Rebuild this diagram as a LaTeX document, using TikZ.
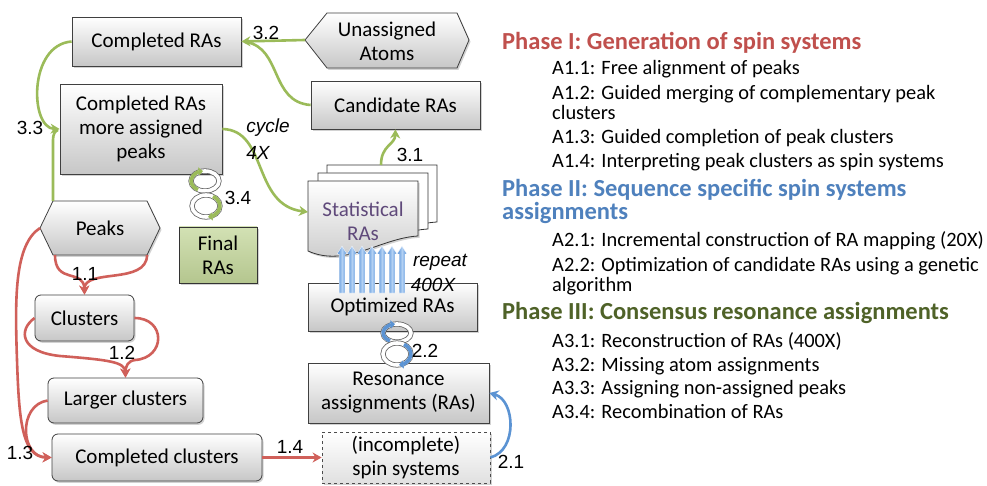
\documentclass[tikz,border=0pt]{standalone}
\usepackage{fontspec}
\setmainfont{Carlito}
\newfontfamily\labfont{Liberation Sans}
\usetikzlibrary{arrows.meta,shadows}
\definecolor{gA}{HTML}{9BBB59}
\definecolor{rA}{HTML}{D0605A}
\definecolor{bA}{HTML}{5B93D3}
\definecolor{pI}{HTML}{C0504D}
\definecolor{pII}{HTML}{4F81BD}
\definecolor{pIII}{HTML}{4F6228}
\definecolor{bordc}{HTML}{404040}
\definecolor{finalc}{HTML}{C4D79B}
\definecolor{statc}{HTML}{5F497A}
\definecolor{blL}{HTML}{B4D2F4}
\definecolor{blD}{HTML}{4A88D4}
\begin{document}
\begin{tikzpicture}[x=1pt,y=-1pt,
  shadowed/.style={drop shadow={shadow xshift=1.5pt,shadow yshift=-1.8pt,opacity=0.35}},
  box/.style={draw=bordc, line width=0.8pt, top color=white, bottom color=black!22, shadowed,
    inner sep=0pt, align=center, font=\fontsize{21}{24}\selectfont},
  rbox/.style={box, rounded corners=6pt},
  hexbox/.style={draw=bordc, line width=0.8pt, top color=white, bottom color=black!22, shadowed},
  txt/.style={inner sep=0pt, align=center, font=\fontsize{21}{24}\selectfont},
  lab/.style={inner sep=0pt, font=\labfont\fontsize{19}{22}\selectfont},
  ilab/.style={inner sep=0pt, font=\labfont\itshape\fontsize{19}{22}\selectfont},
  gline/.style={draw=gA, line width=2.6pt, -{Stealth[length=9pt,width=10pt]}},
  glinen/.style={draw=gA, line width=2.6pt},
  rline/.style={draw=rA, line width=2.6pt, -{Stealth[length=9pt,width=10pt]}},
  bline/.style={draw=bA, line width=2.6pt, -{Stealth[length=9pt,width=10pt]}},
  head/.style={anchor=base west, inner sep=0pt, font=\bfseries\fontsize{24.5}{26}\selectfont},
  item/.style={anchor=base west, inner sep=0pt, font=\fontsize{20.4}{24}\selectfont},
  ringedge/.style={draw=black!60, line width=5.2pt},
  ringfill/.style={draw=white, line width=3.6pt},
  ringarc/.style={line width=3.6pt, -{Triangle[length=4.5pt,width=8pt]}},
]
\fill[white] (0,0) rectangle (987,486);
\useasboundingbox (0,0) rectangle (987,486);

% ---------- boxes ----------
\node[box, minimum width=169, minimum height=49] (crt) at (156.5,41.5) {Completed RAs};
\node[box, minimum width=162, minimum height=90] (crm) at (141,129) {Completed RAs\\more assigned\\peaks};
\node[box, minimum width=169, minimum height=48] (cand) at (395.5,105) {Candidate RAs};
\node[box, top color=finalc!75!white, bottom color=finalc!92!black, draw=black!80, minimum width=78, minimum height=56] (final) at (218,255) {Final\\RAs};
\node[rbox, minimum width=99, minimum height=46] (clu) at (84.5,318) {Clusters};
\node[rbox, minimum width=155, minimum height=45] (lcl) at (125.5,400.5) {Larger clusters};
\node[rbox, minimum width=210, minimum height=47] (ccl) at (157,457.5) {Completed clusters};
\node[box, minimum width=169, minimum height=48] (opt) at (392.5,307) {Optimized RAs};
\node[box, minimum width=181, minimum height=60] (res) at (398.5,393) {Resonance\\assignments (RAs)};
\node[box, dashed, draw=black!70, top color=white, bottom color=black!12, minimum width=168, minimum height=51] (inc) at (406,457.5) {(incomplete)\\spin systems};

% ---------- hexagons ----------
\path[hexbox] (305,40) -- (327,13) -- (457,13) -- (469,40) -- (457,68) -- (327,68) -- cycle;
\node[txt] (ua) at (387,41) {Unassigned\\Atoms};
\coordinate (uaW) at (305,40);
\path[hexbox] (40,228) -- (53,201) -- (147,201) -- (160,228) -- (147,255) -- (53,255) -- cycle;
\node[txt] (pk) at (100,228) {Peaks};
\coordinate (pkW) at (40,228);
\coordinate (pkNW) at (53,201);
\coordinate (pkSW) at (55,255);
\coordinate (pkSE) at (147,255);

% ---------- statistical RAs stack ----------
\path[draw=black!80, line width=0.8pt, fill=white]
  (327,165) -- (437,165) -- (437,222) .. controls (400,224) and (365,252) .. (327,236) -- cycle;
\path[draw=black!80, line width=0.8pt, fill=white]
  (318,173) -- (428,173) -- (428,229) .. controls (391,231) and (356,259) .. (318,243) -- cycle;
\path[draw=black!80, line width=0.8pt, top color=white, bottom color=black!22, shadowed]
  (308,181) -- (418,181) -- (418,236) .. controls (381,238) and (346,268) .. (308,251) -- cycle;
\node[txt, text=statc] (stat) at (363,221) {Statistical\\RAs};
\coordinate (statW) at (308,212);
\coordinate (statN) at (381,165);

% ---------- blue repeat arrows ----------
\foreach \i in {0,...,6}{
  \pgfmathsetmacro{\xx}{342+10*\i}
  \path[left color=blD, right color=blD, middle color=blL, draw=white, line width=0.3pt]
    (\xx-2.9,293) -- (\xx-2.9,254) -- (\xx-4.9,254) -- (\xx,246) -- (\xx+4.9,254) -- (\xx+2.9,254) -- (\xx+2.9,293) -- cycle;
}

% ---------- cycle icons ----------
% 3.4
\draw[ringedge] (205,181) ellipse [x radius=14, y radius=10];
\draw[ringfill] (205,181) ellipse [x radius=14, y radius=10];
\draw[ringarc, draw=gA] ([shift={(120:14 and 10)}]205,181) arc[start angle=120, end angle=262, x radius=14, y radius=10];
\draw[ringedge] (206,206) ellipse [x radius=14, y radius=11];
\draw[ringfill] (206,206) ellipse [x radius=14, y radius=11];
\draw[ringarc, draw=gA] ([shift={(-60:14 and 11)}]206,206) arc[start angle=-60, end angle=82, x radius=14, y radius=11];
% 2.2
\draw[ringedge] (397,333) ellipse [x radius=14, y radius=9];
\draw[ringfill] (397,333) ellipse [x radius=14, y radius=9];
\draw[ringarc, draw=bA] ([shift={(120:14 and 9)}]397,333) arc[start angle=120, end angle=262, x radius=14, y radius=9];
\draw[ringedge] (397,354) ellipse [x radius=14, y radius=11];
\draw[ringfill] (397,354) ellipse [x radius=14, y radius=11];
\draw[ringarc, draw=bA] ([shift={(-60:14 and 11)}]397,354) arc[start angle=-60, end angle=82, x radius=14, y radius=11];

% ---------- green connectors ----------
\draw[gline] (uaW) -- (crt.east);
\draw[glinen] (cand.west) .. controls (270,102) and (282,48) .. (246,42);
\draw[gline] (crt.west) .. controls (28,45) and (30,128) .. (crm.west);
\draw[glinen] (pkNW) -- (53,140) .. controls (53,134) and (55,131) .. (58,130);
\draw[gline] (crm.east) .. controls (268,130) and (252,205) .. (statW);
\draw[gline] (statN) .. controls (381,145) and (395,145) .. (cand.south);

% ---------- red connectors ----------
\draw[rline] (pkSW) .. controls (55,285) and (84,268) .. (clu.north);
\draw[rline] (pkSE) .. controls (147,285) and (84,268) .. (clu.north);
\draw[rline] (clu.west) .. controls (18,330) and (20,352) .. (60,356) .. controls (110,360) and (125,362) .. (lcl.north);
\draw[rline] (clu.east) .. controls (166,318) and (166,358) .. (135,360) .. controls (128,361) and (125.5,366) .. (lcl.north);
\draw[rline] (pkW) .. controls (14,245) and (15,300) .. (17,360) .. controls (19,420) and (22,457) .. (ccl.west);
\draw[rline] (lcl.west) .. controls (18,405) and (20,457) .. (ccl.west);
\draw[rline] (ccl.east) -- (inc.west);

% ---------- blue connector ----------
\draw[bline] (inc.east) .. controls (518,450) and (515,400) .. (res.east);

% ---------- labels ----------
\node[lab] (l33) at (30,128) {3.3};
\node[lab] (l32) at (266,33) {3.2};
\node[lab] (l31) at (410,155) {3.1};
\node[lab] (l34) at (238,198) {3.4};
\node[ilab] (lcy) at (268,128) {cycle};
\node[ilab] (l4x) at (258,153) {4X};
\node[ilab] (lrp) at (440,262) {repeat};
\node[ilab] (l400) at (433,285) {400X};
\node[lab] (l22) at (425,351) {2.2};
\node[lab] (l11) at (85,274) {1.1};
\node[lab] (l12) at (122,353) {1.2};
\node[lab] (l13) at (20,453) {1.3};
\node[lab] (l14) at (290,447) {1.4};
\node[lab] (l21) at (511,462) {2.1};

% ---------- right panel ----------
\node[head, text=pI] (h1) at (502,50) {Phase I: Generation of spin systems};
\node[item] (a11) at (552,75) {A1.1: Free alignment of peaks};
\node[item] (a12) at (552,100) {A1.2: Guided merging of complementary peak};
\node[item] (a12b) at (552,120) {clusters};
\node[item] (a13) at (552,144) {A1.3: Guided completion of peak clusters};
\node[item] (a14) at (552,168) {A1.4: Interpreting peak clusters as spin systems};
\node[head, text=pII] (h2) at (502,197) {Phase II: Sequence specific spin systems};
\node[head, text=pII] (h2b) at (502,220) {assignments};
\node[item] (a21) at (552,247) {A2.1: Incremental construction of RA mapping (20X)};
\node[item] (a22) at (552,272) {A2.2: Optimization of candidate RAs using a genetic};
\node[item] (a22b) at (552,291) {algorithm};
\node[head, text=pIII] (h3) at (502,319) {Phase III: Consensus resonance assignments};
\node[item] (a31) at (552,347) {A3.1: Reconstruction of RAs (400X)};
\node[item] (a32) at (552,371) {A3.2: Missing atom assignments};
\node[item] (a33) at (552,394) {A3.3: Assigning non-assigned peaks};
\node[item] (a34) at (552,418) {A3.4: Recombination of RAs};
\end{tikzpicture}
\end{document}
